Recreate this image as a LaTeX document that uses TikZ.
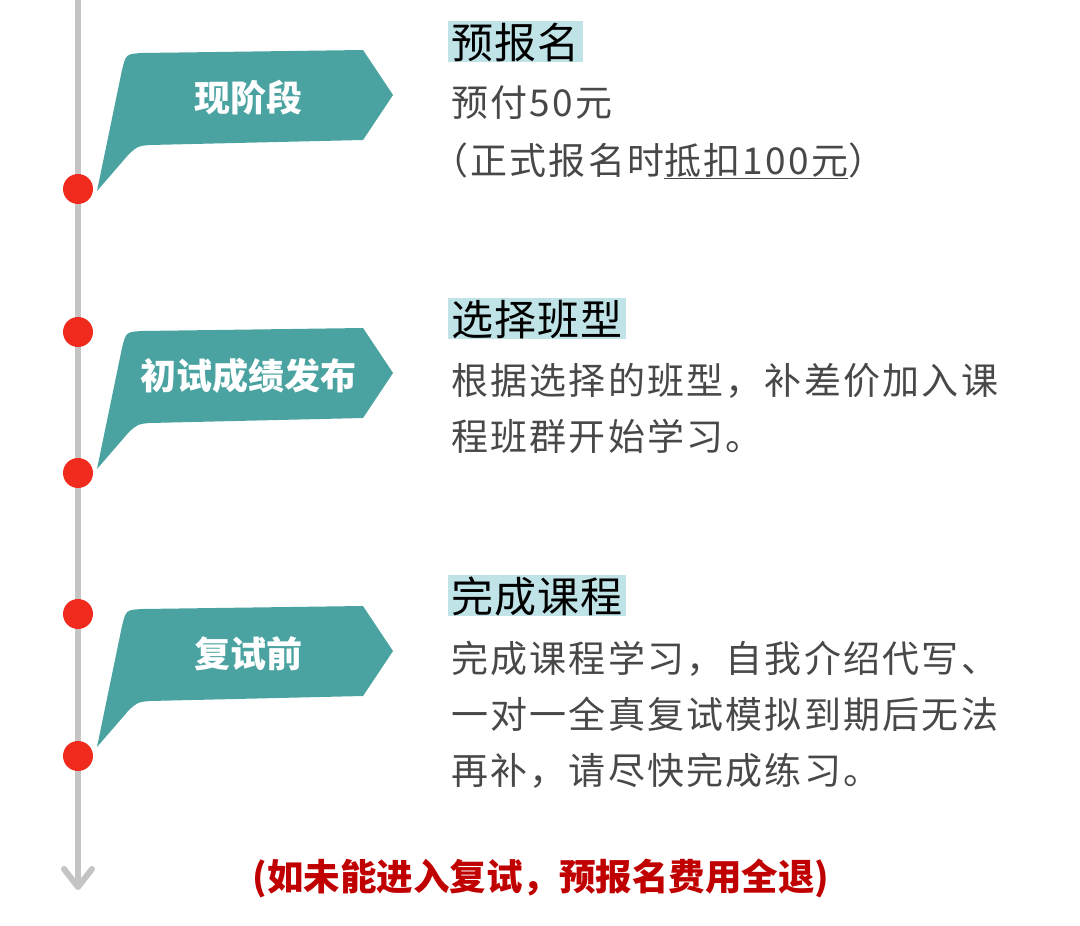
\documentclass[tikz,border=0pt]{standalone}
\usepackage{fontspec}
\setmainfont{Noto Sans CJK SC}
\newfontfamily\headfont[LetterSpace=3]{Noto Sans CJK SC}
\newfontfamily\bodyfont[LetterSpace=6]{Noto Sans CJK SC}
\usetikzlibrary{arrows.meta,positioning}

\definecolor{flagteal}{RGB}{74,163,161}
\definecolor{dotred}{RGB}{240,42,28}
\definecolor{linegray}{RGB}{196,196,196}
\definecolor{headbg}{RGB}{191,227,230}
\definecolor{bodygray}{RGB}{72,72,72}
\definecolor{notered}{RGB}{192,0,0}

\begin{document}
\begin{tikzpicture}[x=1pt,y=-1pt,
    flagfill/.style={fill=flagteal},
    flagtext/.style={text=white,inner sep=0pt,font=\fontsize{36}{36}\selectfont\bfseries},
    heading/.style={anchor=base west,fill=headbg,inner xsep=3pt,inner ysep=0pt,text height=37pt,text depth=4pt,font=\headfont\fontsize{42}{42}\selectfont},
    bodyline/.style={anchor=base west,inner sep=0pt,text=bodygray,font=\bodyfont\fontsize{37}{37}\selectfont},
    dot/.style={circle,fill=dotred,minimum size=30pt,inner sep=0pt}]
  \useasboundingbox (0,0) rectangle (1080,926);
  % timeline
  \coordinate (top) at (78,0);
  \coordinate (end) at (78,890);
  \draw[linegray,line width=6pt,-{Straight Barb[length=18pt,width=28pt,round]}] (top) -- (end);
  % flags
  \fill[flagfill] (97,191) -- (122,70) .. controls (126,54) .. (142,53) -- (363,50) -- (393,95) -- (363,140) -- (150,145) .. controls (138,146) .. (129,154) -- cycle;
  \begin{scope}[shift={(0,278)}]
    \fill[flagfill] (97,191) -- (122,70) .. controls (126,54) .. (142,53) -- (363,50) -- (393,95) -- (363,140) -- (150,145) .. controls (138,146) .. (129,154) -- cycle;
  \end{scope}
  \begin{scope}[shift={(0,556)}]
    \fill[flagfill] (97,191) -- (122,70) .. controls (126,54) .. (142,53) -- (363,50) -- (393,95) -- (363,140) -- (150,145) .. controls (138,146) .. (129,154) -- cycle;
  \end{scope}
  \node[flagtext] (stage1) at (248,98) {现阶段};
  \node[flagtext] (stage2) at (248,376) {初试成绩发布};
  \node[flagtext] (stage3) at (248,654) {复试前};
  % dots
  \node[dot] (d1) at (78,189) {};
  \node[dot] (d2) at (78,332) {};
  \node[dot] (d3) at (78,473) {};
  \node[dot] (d4) at (78,614) {};
  \node[dot] (d5) at (78,756) {};
  % step texts
  \node[heading] (head1) at (448,58) {预报名};
  \node[bodyline] (line11) at (451,116) {预付50元};
  \node[bodyline] (line12) at (431,174) {（正式报名时\underline{抵扣100元}）};
  \node[heading] (head2) at (448,335) {选择班型};
  \node[bodyline] (line21) at (451,394) {根据选择的班型，补差价加入课};
  \node[bodyline] (line22) at (451,450) {程班群开始学习。};
  \node[heading] (head3) at (448,612) {完成课程};
  \node[bodyline] (line31) at (451,672) {完成课程学习，自我介绍代写、};
  \node[bodyline] (line32) at (451,728) {一对一全真复试模拟到期后无法};
  \node[bodyline] (line33) at (451,784) {再补，请尽快完成练习。};
  % note
  \node[text=notered,inner sep=0pt,font=\fontsize{36.5}{36.5}\selectfont\bfseries] (note) at (541,878) {(如未能进入复试，预报名费用全退)};
\end{tikzpicture}
\end{document}
